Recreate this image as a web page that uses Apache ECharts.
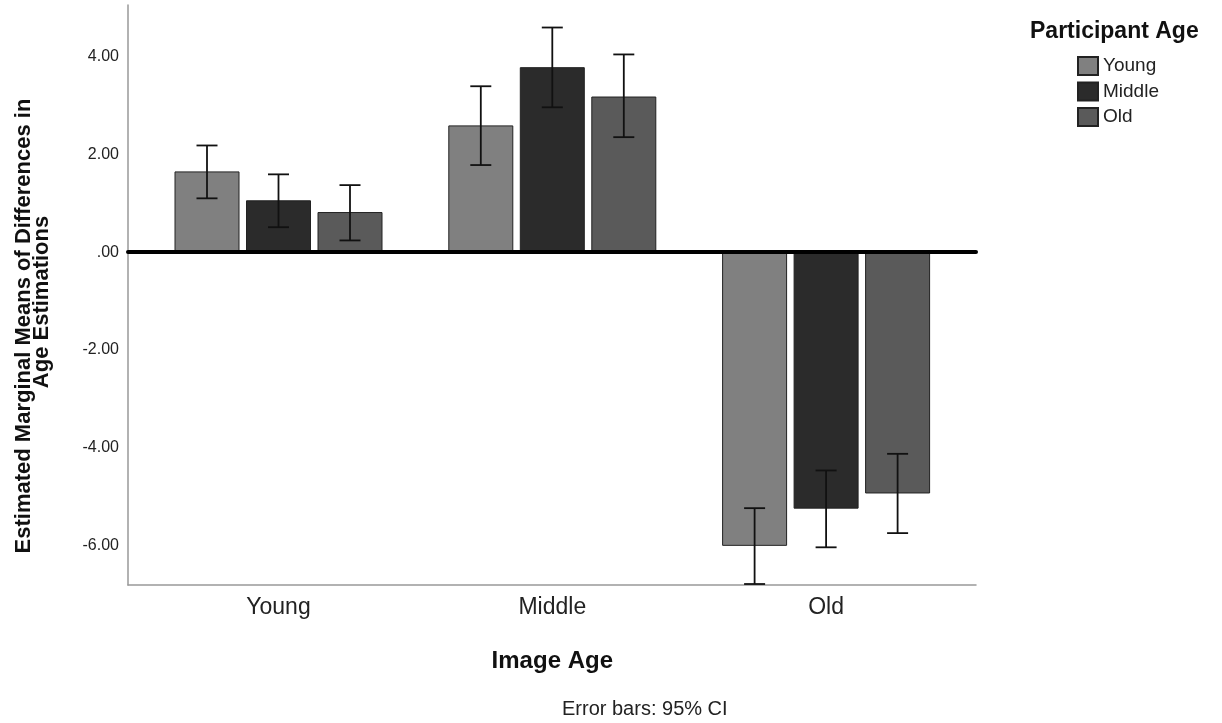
<!DOCTYPE html>
<html>
<head>
<meta charset="utf-8">
<script src="https://cdn.jsdelivr.net/npm/echarts@6/dist/echarts.min.js"></script>
<style>
  html, body { margin: 0; padding: 0; background: #fff; }
  #chart { width: 1222px; height: 723px; }
</style>
</head>
<body>
<div id="chart"></div>
<script>
// data
const imageAges = ['Young', 'Middle', 'Old'];
const participantAges = ['Young', 'Middle', 'Old'];
const meanYoung = [1.65, 2.59, -6.00];
const meanMiddle = [1.06, 3.78, -5.24];
const meanOld = [0.82, 3.18, -4.93];
const lowYoung = [1.10, 1.78, -6.78];
const highYoung = [2.18, 3.39, -5.23];
const lowMiddle = [0.51, 2.96, -6.03];
const highMiddle = [1.59, 4.59, -4.46];
const lowOld = [0.24, 2.35, -5.74];
const highOld = [1.37, 4.04, -4.12];
const yTicks = [-6, -4, -2, 0, 2, 4];

const colors = ['#808080', '#2b2b2b', '#5a5a5a'];
const means = [meanYoung, meanMiddle, meanOld];
const lows = [lowYoung, lowMiddle, lowOld];
const highs = [highYoung, highMiddle, highOld];

const FONT = '"Liberation Sans", Arial, sans-serif';
const BAR_W = 65;
const BAR_GAP = 6.5;
const Y_MIN = -6.8, Y_MAX = 5.05;

let chart = echarts.init(document.getElementById('chart'));

// error bar drawing, shifted to the bar of series i
function errorRenderer(i) {
    return function (params, api) {
        const cat = api.value(0);
        const top = api.coord([cat, api.value(2)]);
        const bot = api.coord([cat, api.value(1)]);
        const cx = top[0] + (i - 1) * (BAR_W + BAR_GAP);
        const st = { stroke: '#111', lineWidth: 1.8 };
        return {
            type: 'group',
            children: [
                { type: 'line', shape: { x1: cx, y1: top[1], x2: cx, y2: bot[1] }, style: st },
                { type: 'line', shape: { x1: cx - 10.5, y1: top[1], x2: cx + 10.5, y2: top[1] }, style: st },
                { type: 'line', shape: { x1: cx - 10.5, y1: bot[1], x2: cx + 10.5, y2: bot[1] }, style: st }
            ]
        };
    };
}

const series = [];
participantAges.forEach(function (name, i) {
    series.push({
        name: name,
        type: 'bar',
        xAxisIndex: 1,
        yAxisIndex: 1,
        barWidth: BAR_W,
        barGap: (BAR_GAP / BAR_W * 100) + '%',
        data: means[i],
        itemStyle: { color: colors[i], borderColor: '#222', borderWidth: 1 },
        z: 2
    });
});
participantAges.forEach(function (name, i) {
    series.push({
        type: 'custom',
        xAxisIndex: 1,
        yAxisIndex: 1,
        renderItem: errorRenderer(i),
        encode: { x: 0, y: [1, 2] },
        data: imageAges.map(function (c, k) { return [k, lows[i][k], highs[i][k]]; }),
        z: 5
    });
});

// rotated y axis title, two lines
const yTitleStyle = { font: 'bold 22px ' + FONT, fill: '#111', align: 'center', verticalAlign: 'middle' };

const option = {
    animation: false,
    backgroundColor: '#fff',
    textStyle: { fontFamily: FONT },
    title: [
        {
            text: 'Participant Age', left: 1025, top: 15,
            textStyle: { fontFamily: FONT, fontWeight: 'bold', fontSize: 23, color: '#111' }
        },
        {
            text: 'Error bars: 95% CI', left: 557, top: 694,
            textStyle: { fontFamily: FONT, fontWeight: 'normal', fontSize: 20, color: '#222' }
        }
    ],
    legend: {
        orient: 'vertical',
        left: 1072,
        top: 51,
        itemWidth: 20,
        itemHeight: 18,
        itemGap: 5.5,
        icon: 'rect',
        data: participantAges,
        textStyle: { fontFamily: FONT, fontSize: 19, lineHeight: 20, color: '#222' }
    },
    grid: [
        { left: 128, right: 246, top: 5, bottom: 138 },
        { left: 141.6, right: 259, top: 5, bottom: 138 }
    ],
    xAxis: [
        {
            type: 'value', gridIndex: 0, min: 0, max: 1, position: 'top',
            axisLine: { show: true, onZero: true, lineStyle: { color: '#000', width: 4 } },
            axisTick: { show: false }, axisLabel: { show: false }, splitLine: { show: false }, z: 10
        },
        {
            type: 'category', gridIndex: 1, data: imageAges,
            axisLine: { show: false }, axisTick: { show: false },
            axisLabel: { fontFamily: FONT, fontSize: 23, color: '#222', margin: 11 },
            name: 'Image Age', nameLocation: 'middle', nameGap: 64,
            nameTextStyle: { fontFamily: FONT, fontWeight: 'bold', fontSize: 24, color: '#111' }
        },
        {
            type: 'value', gridIndex: 0, min: 0, max: 1, position: 'bottom',
            axisLine: { show: true, onZero: false, lineStyle: { color: '#999', width: 1.5 } },
            axisTick: { show: false }, axisLabel: { show: false }, splitLine: { show: false }
        }
    ],
    yAxis: [
        {
            type: 'value', gridIndex: 0, min: Y_MIN, max: Y_MAX,
            axisLine: { show: true, lineStyle: { color: '#999', width: 1.5 } },
            axisTick: { show: false },
            splitLine: { show: false },
            axisLabel: {
                customValues: yTicks,
                margin: 9,
                fontFamily: FONT, fontSize: 16, color: '#222',
                formatter: function (v) { return v === 0 ? '.00' : v.toFixed(2); }
            }
        },
        {
            type: 'value', gridIndex: 1, min: Y_MIN, max: Y_MAX, show: false
        }
    ],
    graphic: [
        {
            type: 'text', x: 24, y: 326, rotation: Math.PI / 2,
            style: Object.assign({ text: 'Estimated Marginal Means of Differences in' }, yTitleStyle)
        },
        {
            type: 'text', x: 42, y: 302, rotation: Math.PI / 2,
            style: Object.assign({ text: 'Age Estimations' }, yTitleStyle)
        }
    ],
    series: series
};

chart.setOption(option);
</script>
</body>
</html>
